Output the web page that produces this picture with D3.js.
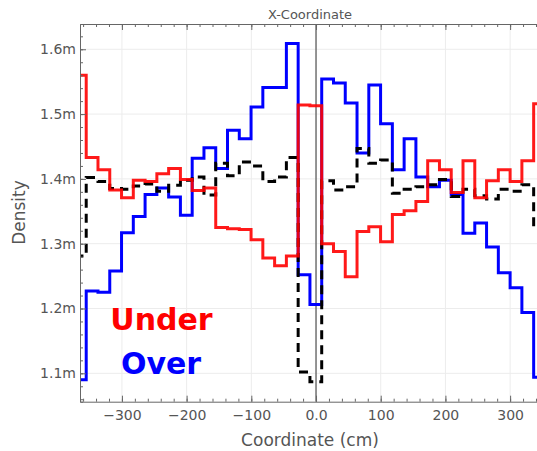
<!DOCTYPE html>
<html>
<head>
<meta charset="utf-8">
<script src="https://cdn.jsdelivr.net/npm/d3@7"></script>
<style>
  body { margin: 0; background: #fff; }
  text { font-family: "DejaVu Sans", sans-serif; }
</style>
</head>
<body>
<svg width="537" height="451"></svg>
<script>
const width = 537;
const height = 451;

// histogram binning (cm)
const binStart = -373.4;
const binWidth = 18.2;

// densities per bin, in units of 1e-3
const underVals = [1.560, 1.433, 1.414, 1.383, 1.371, 1.398, 1.396, 1.408, 1.416, 1.399,
                   1.382, 1.386, 1.325, 1.323, 1.322, 1.306, 1.278, 1.266, 1.281, 1.514,
                   1.513, 1.300, 1.288, 1.249, 1.319, 1.326, 1.303, 1.345, 1.351, 1.365,
                   1.428, 1.414, 1.379, 1.428, 1.371, 1.397, 1.414, 1.396, 1.428, 1.516];
const overVals = [1.090, 1.227, 1.225, 1.258, 1.317, 1.342, 1.376, 1.386, 1.372, 1.344,
                  1.432, 1.448, 1.416, 1.475, 1.462, 1.511, 1.541, 1.541, 1.609, 1.252,
                  1.206, 1.554, 1.548, 1.517, 1.440, 1.545, 1.485, 1.414, 1.462, 1.403,
                  1.388, 1.398, 1.376, 1.316, 1.332, 1.295, 1.255, 1.232, 1.194, 1.094];
const allVals = [1.281, 1.402, 1.396, 1.385, 1.384, 1.389, 1.392, 1.381, 1.390, 1.398,
                 1.403, 1.375, 1.424, 1.405, 1.426, 1.420, 1.396, 1.403, 1.433, 1.102,
                 1.087, 1.397, 1.383, 1.388, 1.447, 1.424, 1.429, 1.378, 1.384, 1.388,
                 1.391, 1.399, 1.373, 1.384, 1.374, 1.369, 1.384, 1.381, 1.391, 1.326];

const xTicks = [-300, -200, -100, 0, 100, 200, 300];
const xMinor = d3.range(-360, 341, 20);
const yTicks = [1.1, 1.2, 1.3, 1.4, 1.5, 1.6];
const yMinor = d3.range(1.06, 1.64, 0.02);

const svg = d3.select("svg");

const pLeft = 80, pRight = 540, pTop = 24, pBottom = 401.7;

const x = d3.scaleLinear().domain([-364.8, 346.2]).range([pLeft, pRight]);
const y = d3.scaleLinear().domain([1.0562, 1.639]).range([pBottom, pTop]);

// clip
svg.append("clipPath").attr("id", "plot")
    .append("rect")
    .attr("x", pLeft).attr("y", pTop)
    .attr("width", pRight - pLeft).attr("height", pBottom - pTop);

//grid
const grid = svg.append("g").attr("stroke", "#ececec").attr("stroke-width", 1);
xTicks.forEach(t => {
    grid.append("line")
        .attr("x1", x(t)).attr("x2", x(t))
        .attr("y1", pTop).attr("y2", pBottom);
});
yTicks.forEach(t => {
    grid.append("line")
        .attr("x1", pLeft).attr("x2", pRight)
        .attr("y1", y(t)).attr("y2", y(t));
});

//zero line
svg.append("line")
    .attr("x1", x(0)).attr("x2", x(0))
    .attr("y1", pTop).attr("y2", pBottom)
    .attr("stroke", "#333").attr("stroke-width", 1);

//histogram step lines
function stepPoints(vals) {
    const pts = vals.map((v, i) => [binStart + i * binWidth, v]);
    pts.push([binStart + vals.length * binWidth, vals[vals.length - 1]]);
    return pts;
}

const line = d3.line()
    .x(d => x(d[0]))
    .y(d => y(d[1]))
    .curve(d3.curveStepAfter);

const marks = svg.append("g").attr("clip-path", "url(#plot)");

marks.append("path")
    .attr("d", line(stepPoints(overVals)))
    .attr("fill", "none")
    .attr("stroke", "#0000ff")
    .attr("stroke-width", 3);

marks.append("path")
    .attr("d", line(stepPoints(allVals)))
    .attr("fill", "none")
    .attr("stroke", "#000")
    .attr("stroke-width", 3)
    .attr("stroke-dasharray", "9,6");

marks.append("path")
    .attr("d", line(stepPoints(underVals)))
    .attr("fill", "none")
    .attr("stroke", "#ff0000")
    .attr("stroke-opacity", 0.9)
    .attr("stroke-width", 3);

//axes
function styleAxis(g) {
    g.selectAll(".domain").attr("stroke", "#666");
    g.selectAll(".tick line").attr("stroke", "#666");
    g.selectAll(".tick text")
        .attr("fill", "#555")
        .style("font-family", "DejaVu Sans")
        .style("font-size", "14px");
}

const fmtX = d => d === 0 ? "0.0" : d3.format("")(d).replace("-", "\u2212");

svg.append("g")
    .attr("transform", "translate(0," + pBottom + ")")
    .call(d3.axisBottom(x).tickValues(xMinor).tickSize(-3).tickFormat(""))
    .call(styleAxis);

svg.append("g")
    .attr("transform", "translate(0," + pBottom + ")")
    .call(d3.axisBottom(x).tickValues(xTicks).tickSize(-6).tickPadding(8).tickFormat(fmtX))
    .call(styleAxis)
    .call(g => g.select(".domain").remove());

svg.append("g")
    .attr("transform", "translate(0," + pTop + ")")
    .call(d3.axisTop(x).tickValues(xMinor).tickSize(-3).tickFormat(""))
    .call(styleAxis);

svg.append("g")
    .attr("transform", "translate(0," + pTop + ")")
    .call(d3.axisTop(x).tickValues(xTicks).tickSize(-6).tickFormat(""))
    .call(styleAxis)
    .call(g => g.select(".domain").remove());

svg.append("g")
    .attr("transform", "translate(" + pLeft + ",0)")
    .call(d3.axisLeft(y).tickValues(yMinor).tickSize(-3).tickFormat(""))
    .call(styleAxis);

svg.append("g")
    .attr("transform", "translate(" + pLeft + ",0)")
    .call(d3.axisLeft(y).tickValues(yTicks).tickSize(-6).tickPadding(4).tickFormat(d => d.toFixed(1) + "m"))
    .call(styleAxis)
    .call(g => g.select(".domain").remove());

//titles
svg.append("text")
    .attr("x", 310).attr("y", 18.5)
    .attr("text-anchor", "middle")
    .attr("fill", "#555")
    .style("font-size", "13px")
    .text("X-Coordinate");

svg.append("text")
    .attr("x", 310).attr("y", 446)
    .attr("text-anchor", "middle")
    .attr("fill", "#555")
    .style("font-size", "17px")
    .text("Coordinate (cm)");

svg.append("text")
    .attr("transform", "translate(25,212.5) rotate(-90)")
    .attr("text-anchor", "middle")
    .attr("fill", "#555")
    .style("font-size", "17px")
    .text("Density");

//legend text
svg.append("text")
    .attr("x", 161.5).attr("y", 330)
    .attr("text-anchor", "middle")
    .attr("fill", "#ff0000")
    .style("font-size", "30px")
    .style("font-weight", "bold")
    .text("Under");

svg.append("text")
    .attr("x", 161).attr("y", 374.3)
    .attr("text-anchor", "middle")
    .attr("fill", "#0000ff")
    .style("font-size", "30px")
    .style("font-weight", "bold")
    .text("Over");
</script>
</body>
</html>
